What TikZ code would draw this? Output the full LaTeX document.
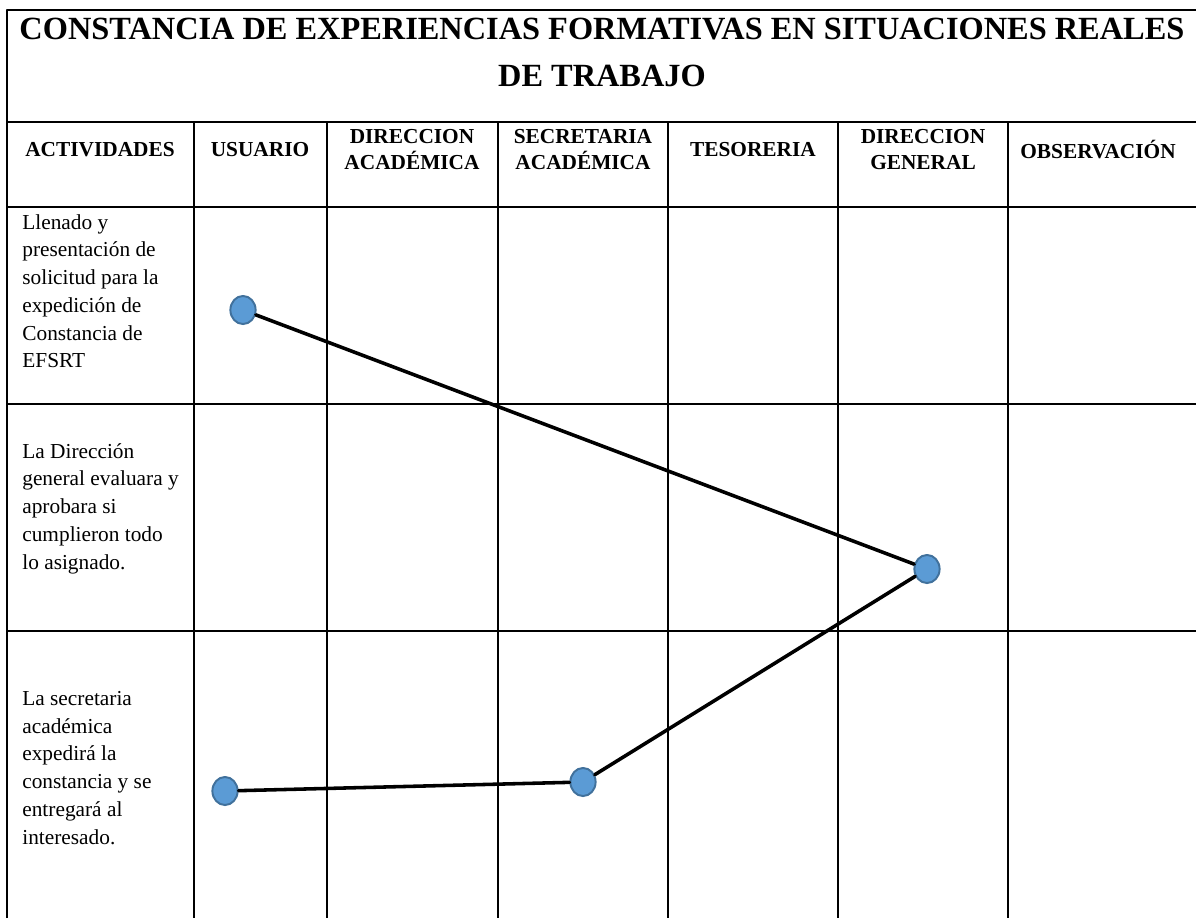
\documentclass[tikz,border=0pt]{standalone}
\usepackage{fontspec}
\setmainfont{Liberation Serif}
\usetikzlibrary{shapes.geometric}

\definecolor{dotfill}{RGB}{91,155,213}
\definecolor{dotline}{RGB}{65,113,156}

\begin{document}
\begin{tikzpicture}[x=0.5625pt, y=-0.5625pt, line join=round,
    grid/.style={line width=1.1pt},
    head/.style={font=\bfseries\fontsize{12}{14.6}\selectfont, align=center, inner sep=0pt},
    task/.style={font=\fontsize{12}{15.6}\selectfont, align=left, anchor=north west, inner sep=0pt},
    dot/.style={ellipse, draw=dotline, fill=dotfill, line width=1.1pt,
                minimum width=14.2pt, minimum height=15.8pt, inner sep=0pt},
    link/.style={line width=2pt, line cap=round}]

    \useasboundingbox (0,0) rectangle (1196,918);

    % frame and rows
    \draw[grid] (7,918) -- (7,10) -- (1196,10);
    \draw[grid] (7,122) -- (1196,122);
    \draw[grid] (7,207) -- (1196,207);
    \draw[grid] (7,404) -- (1196,404);
    \draw[grid] (7,631) -- (1196,631);
    % columns
    \foreach \x in {194,327,498,668,838,1008}
        \draw[grid] (\x,122) -- (\x,918);

    % title
    \node[font=\bfseries\fontsize{18.2}{26}\selectfont, align=center, anchor=north, inner sep=0pt]
        (title) at (602,18) {CONSTANCIA DE EXPERIENCIAS FORMATIVAS EN SITUACIONES REALES\\DE TRABAJO};

    % headers
    \node[head] (hact) at (100,150) {ACTIVIDADES};
    \node[head] (husu) at (260,150) {USUARIO};
    \node[head] (hdac) at (412,150) {DIRECCION\\ACADÉMICA};
    \node[head] (hsac) at (583,150) {SECRETARIA\\ACADÉMICA};
    \node[head] (htes) at (753,150) {TESORERIA};
    \node[head] (hdge) at (923,150) {DIRECCION\\GENERAL};
    \node[head] (hobs) at (1098,150) {OBSERVACIÓN};

    % activities
    \node[task] (act1) at (22,214) {Llenado y\\presentación de\\solicitud para la\\expedición de\\Constancia de\\EFSRT};
    \node[task] (act2) at (22,443) {La Dirección\\general evaluara y\\aprobara si\\cumplieron todo\\lo asignado.};
    \node[task] (act3) at (22,691) {La secretaria\\académica\\expedirá la\\constancia y se\\entregará al\\interesado.};

    % flow
    \node[dot] (usu1) at (243,310) {};
    \node[dot] (dge2) at (927,569) {};
    \node[dot] (sac3) at (583,782) {};
    \node[dot] (usu3) at (225,791) {};

    \draw[link] (usu1) -- (dge2);
    \draw[link] (dge2) -- (sac3);
    \draw[link] (sac3) -- (usu3);

\end{tikzpicture}
\end{document}
